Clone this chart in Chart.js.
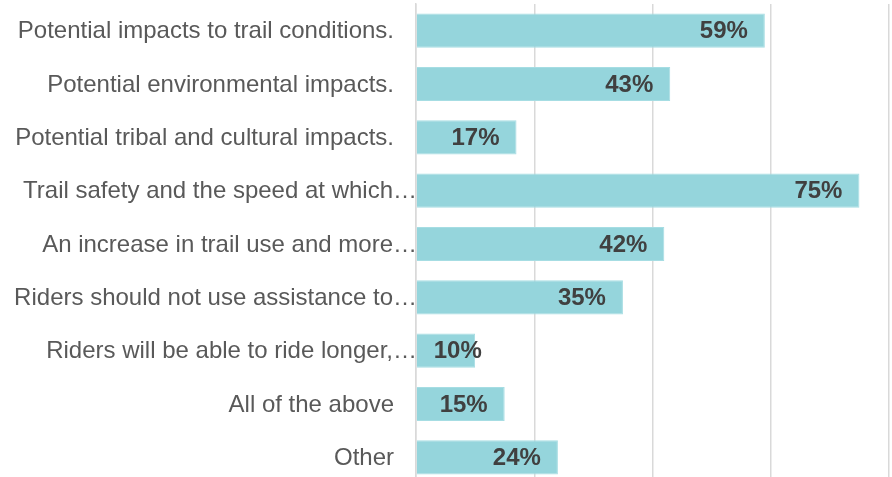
<!DOCTYPE html>
<html>
<head>
<meta charset="utf-8">
<script src="https://cdn.jsdelivr.net/npm/chart.js@4/dist/chart.umd.min.js"></script>
<style>
  html, body { margin: 0; padding: 0; background: #fff; overflow: hidden; }
  #wrap { width: 892px; height: 484px; position: relative; }
</style>
</head>
<body>
<div id="wrap"><canvas id="chart"></canvas></div>
<script>
const categories = [
  'Potential impacts to trail conditions.',
  'Potential environmental impacts.',
  'Potential tribal and cultural impacts.',
  'Trail safety and the speed at which\u2026',
  'An increase in trail use and more\u2026',
  'Riders should not use assistance to\u2026',
  'Riders will be able to ride longer,\u2026',
  'All of the above',
  'Other'
];
const percents = [59, 43, 17, 75, 42, 35, 10, 15, 24];
const xTicks = [0, 20, 40, 60, 80];

const FONT = '"Liberation Sans", Arial, sans-serif';

// category names: shortened ones run up to the axis, full ones keep a gap
const categoryLabels = {
  id: 'categoryLabels',
  afterDraw(chart) {
    const ctx = chart.ctx;
    const yScale = chart.scales.y;
    const left = chart.chartArea.left;
    ctx.save();
    ctx.font = '24px ' + FONT;
    ctx.fillStyle = '#595959';
    ctx.textAlign = 'right';
    ctx.textBaseline = 'middle';
    categories.forEach((name, i) => {
      const y = yScale.getPixelForValue(i);
      const right = name.endsWith('\u2026') ? left + 1 : left - 22;
      ctx.fillText(name, right, y + 1);
    });
    ctx.restore();
  }
};

// value text drawn inside the end of each bar, kept clear of the axis
const barLabels = {
  id: 'barLabels',
  afterDatasetsDraw(chart) {
    const ctx = chart.ctx;
    const meta = chart.getDatasetMeta(0);
    ctx.save();
    ctx.font = 'bold 24px ' + FONT;
    ctx.fillStyle = '#404040';
    ctx.textAlign = 'right';
    ctx.textBaseline = 'middle';
    meta.data.forEach((bar, i) => {
      const text = percents[i] + '%';
      const w = ctx.measureText(text).width;
      const right = Math.max(bar.x - 17, bar.base + 17 + w);
      ctx.fillText(text, right, bar.y + 1);
    });
    ctx.restore();
  }
};

new Chart(document.getElementById('chart'), {
  type: 'bar',
  data: {
    labels: categories,
    datasets: [{
      data: percents,
      backgroundColor: '#95d5dc',
      borderColor: '#a6dde3',
      borderWidth: 1,
      barPercentage: 0.64,
      categoryPercentage: 1
    }]
  },
  options: {
    indexAxis: 'y',
    responsive: true,
    maintainAspectRatio: false,
    animation: false,
    layout: { padding: { top: 4, right: 3, left: 0, bottom: 0 } },
    scales: {
      x: {
        min: 0,
        max: 80,
        afterBuildTicks: axis => { axis.ticks = xTicks.map(v => ({ value: v })); },
        afterFit: axis => { axis.height = 0; axis.paddingLeft = 0; axis.paddingRight = 0; },
        ticks: { display: false },
        grid: { color: '#d9d9d9', lineWidth: 1.5, drawTicks: false },
        border: { display: false }
      },
      y: {
        afterFit: axis => { axis.width = 416; axis.paddingTop = 0; axis.paddingBottom = 0; },
        grid: { display: false, drawTicks: false },
        border: { color: '#d9d9d9', width: 1.5 },
        ticks: { display: false }
      }
    },
    plugins: {
      legend: { display: false },
      tooltip: { enabled: false }
    }
  },
  plugins: [barLabels, categoryLabels]
});
</script>
</body>
</html>
